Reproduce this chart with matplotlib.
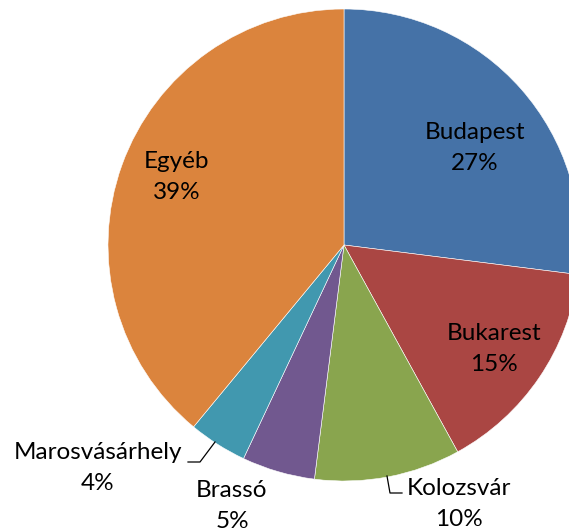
import matplotlib.pyplot as plt

# Slice data (clockwise from 12 o'clock)
cities = ['Budapest', 'Bukarest', 'Kolozsvár', 'Brassó', 'Marosvásárhely', 'Egyéb']
shares = [27, 15, 10, 5, 4, 39]
colors = ['#4572A7', '#AA4643', '#89A54E', '#71588F', '#4198AF', '#DB843D']

W, H = 569, 531
plt.rcParams['font.family'] = ['Lato', 'DejaVu Sans']

fig = plt.figure(figsize=(W / 100, H / 100), dpi=100)
ax = fig.add_axes([0, 0, 1, 1])

# pie drawn in pixel-like coordinates (y up)
ax.pie(shares, colors=colors, startangle=90, counterclock=False,
       center=(344, H - 245), radius=236,
       wedgeprops=dict(edgecolor='white', linewidth=0.4))
ax.set_xlim(0, W)
ax.set_ylim(0, H)
ax.set_aspect('equal')
ax.axis('off')

# label block centres in pixel coords (x, y from top)
label_pos = [(475, 148), (494, 349), (459, 504), (232, 506), (98, 468), (177, 177)]
for name, val, (x, y) in zip(cities, shares, label_pos):
    ax.text(x, H - y, f'{name}\n{val}%', ha='center', va='center',
            fontsize=17.5, color='black', linespacing=1.6)

# leader lines
leaders = [
    [(387, 476), (390, 493), (402, 493)],   # Kolozsvár
    [(215, 442), (200, 462), (188, 462)],   # Marosvásárhely
]
for pts in leaders:
    xs = [p[0] for p in pts]
    ys = [H - p[1] for p in pts]
    ax.plot(xs, ys, color='black', linewidth=0.9)

fig.savefig('out.png', dpi=100)
